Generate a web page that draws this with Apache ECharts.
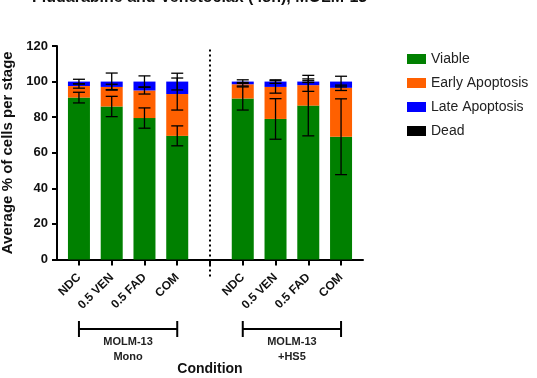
<!DOCTYPE html>
<html>
<head>
<meta charset="utf-8">
<script src="https://cdn.jsdelivr.net/npm/echarts@6/dist/echarts.min.js"></script>
<style>
  html, body { margin: 0; padding: 0; background: #fff; }
  #chart { width: 537px; height: 378px; }
</style>
</head>
<body>
<div id="chart"></div>
<script>
// slot positions on the x axis (slot 4 is the gap with the dotted divider)
const positions = [0, 1, 2, 3, 5, 6, 7, 8];
const conditions = ["NDC", "0.5 VEN", "0.5 FAD", "COM", "NDC", "0.5 VEN", "0.5 FAD", "COM"];

// mean % of cells per stage
const viable = [91, 86, 79.5, 69.5, 90.5, 79, 86.5, 69];
const early = [6.5, 11, 15.5, 23.5, 8, 18, 11.5, 27.5];
const late = [2.5, 3, 5, 7, 1.5, 3, 2, 3.5];
const dead = [0, 0, 0, 0, 0, 0, 0, 0];

// standard deviations
const viableSd = [3, 5.7, 5.7, 5.6, 6.5, 11.4, 17, 21.3];
const earlySd = [1.2, 1.5, 2, 9, 1, 3.5, 3.5, 1.5];
const lateSd = [1.3, 4.8, 3.2, 4.7, 1, 1, 0.5, 3];

const yTicks = [0, 20, 40, 60, 80, 100, 120];

const groups = [
  { from: 0, to: 3, label: "MOLM-13\nMono" },
  { from: 5, to: 8, label: "MOLM-13\n+HS5" },
];

const font = "Liberation Sans";

// value first so that the stack is done on y
function pairs(values) {
  return positions.map((p, i) => [values[i], p]);
}

// error bar data sits on the cumulative top of each segment
const errData = [];
positions.forEach((p, i) => {
  const t1 = viable[i];
  const t2 = t1 + early[i];
  const t3 = t2 + late[i];
  errData.push([p, t1, viableSd[i]]);
  errData.push([p, t2, earlySd[i]]);
  errData.push([p, t3, lateSd[i]]);
});

const chart = echarts.init(document.getElementById("chart"));

function barSeries(name, color, values) {
  return {
    name: name,
    type: "bar",
    stack: "total",
    barWidth: 22,
    encode: { x: 1, y: 0 },
    itemStyle: { color: color },
    data: pairs(values),
  };
}

const option = {
  animation: false,
  title: {
    text: "Fludarabine and Venetoclax (48h), MOLM-13",
    left: 27,
    top: -15,
    textStyle: { fontFamily: font, fontSize: 16, fontWeight: "bold", color: "#111" },
  },
  legend: {
    orient: "vertical",
    left: 402,
    top: 47,
    itemWidth: 19,
    itemHeight: 10,
    itemGap: 10,
    icon: "rect",
    data: ["Viable", "Early Apoptosis", "Late Apoptosis", "Dead"],
    textStyle: { fontFamily: font, fontSize: 14, color: "#222" },
  },
  grid: { left: 57, right: 174, top: 46, bottom: 118.5, outerBoundsMode: "none" },
  xAxis: {
    type: "value",
    min: -0.67,
    max: 8.67,
    name: "Condition",
    nameLocation: "middle",
    nameGap: 103,
    nameTextStyle: { fontFamily: font, fontSize: 14, fontWeight: "bold", color: "#111" },
    splitLine: { show: false },
    axisLine: { onZero: false, lineStyle: { color: "#000", width: 2 } },
    axisTick: {
      length: 6,
      lineStyle: { color: "#000", width: 2 },
      customValues: [0, 1, 2, 3, 4, 5, 6, 7, 8],
    },
    axisLabel: {
      customValues: positions,
      rotate: 45,
      margin: 16,
      fontFamily: font,
      fontSize: 12,
      fontWeight: "bold",
      color: "#111",
      formatter: (v) => conditions[positions.indexOf(Math.round(v))] || "",
    },
  },
  yAxis: {
    type: "value",
    min: 0,
    max: 120,
    interval: 20,
    name: "Average % of cells per stage",
    nameLocation: "middle",
    nameGap: 23,
    nameTextStyle: { fontFamily: font, fontSize: 15, fontWeight: "bold", color: "#111" },
    splitLine: { show: false },
    axisLine: { show: true, onZero: false, lineStyle: { color: "#000", width: 2 } },
    axisTick: { show: true, length: 5, lineStyle: { color: "#000", width: 2 } },
    axisLabel: {
      margin: 9,
      fontFamily: font,
      fontSize: 13,
      fontWeight: "bold",
      color: "#111",
      formatter: (v) => (yTicks.includes(v) ? String(v) : ""),
    },
  },
  series: [
    barSeries("Viable", "#008000", viable),
    barSeries("Early Apoptosis", "#ff6000", early),
    barSeries("Late Apoptosis", "#0000ff", late),
    barSeries("Dead", "#000", dead),
    {
      // error bars
      type: "custom",
      z: 10,
      silent: true,
      data: errData,
      encode: { x: 0, y: 1 },
      renderItem: function (params, api) {
        const x = api.value(0);
        const top = api.value(1);
        const sd = api.value(2);
        const hi = api.coord([x, top + sd]);
        const lo = api.coord([x, top - sd]);
        const half = 6;
        const style = { stroke: "#000", lineWidth: 1.3 };
        return {
          type: "group",
          children: [
            { type: "line", shape: { x1: hi[0], y1: hi[1], x2: lo[0], y2: lo[1] }, style },
            { type: "line", shape: { x1: hi[0] - half, y1: hi[1], x2: hi[0] + half, y2: hi[1] }, style },
            { type: "line", shape: { x1: lo[0] - half, y1: lo[1], x2: lo[0] + half, y2: lo[1] }, style },
          ],
        };
      },
    },
  ],
};

chart.setOption(option);

const toPx = (x, y) => chart.convertToPixel({ xAxisIndex: 0, yAxisIndex: 0 }, [x, y]);
const graphics = [];

// dotted divider between the two groups, running a little below the axis
const dTop = toPx(4, 118);
const dBot = toPx(4, 0);
graphics.push({
  type: "line",
  z: 5,
  shape: { x1: dTop[0], y1: dTop[1], x2: dBot[0], y2: dBot[1] + 18 },
  style: { stroke: "#000", lineWidth: 2, lineDash: [2, 3] },
});

// group brackets under the axis labels
groups.forEach((g) => {
  const a = toPx(g.from, 0);
  const b = toPx(g.to, 0);
  const y = 329;
  const line = { stroke: "#000", lineWidth: 2 };
  graphics.push({ type: "line", shape: { x1: a[0], y1: y, x2: b[0], y2: y }, style: line });
  graphics.push({ type: "line", shape: { x1: a[0], y1: y - 8, x2: a[0], y2: y + 8 }, style: line });
  graphics.push({ type: "line", shape: { x1: b[0], y1: y - 8, x2: b[0], y2: y + 8 }, style: line });
  graphics.push({
    type: "text",
    style: {
      text: g.label,
      x: (a[0] + b[0]) / 2,
      y: 334,
      textAlign: "center",
      textVerticalAlign: "top",
      font: "bold 11px " + font,
      lineHeight: 15,
      fill: "#222",
    },
  });
});
chart.setOption({ graphic: graphics });
</script>
</body>
</html>
